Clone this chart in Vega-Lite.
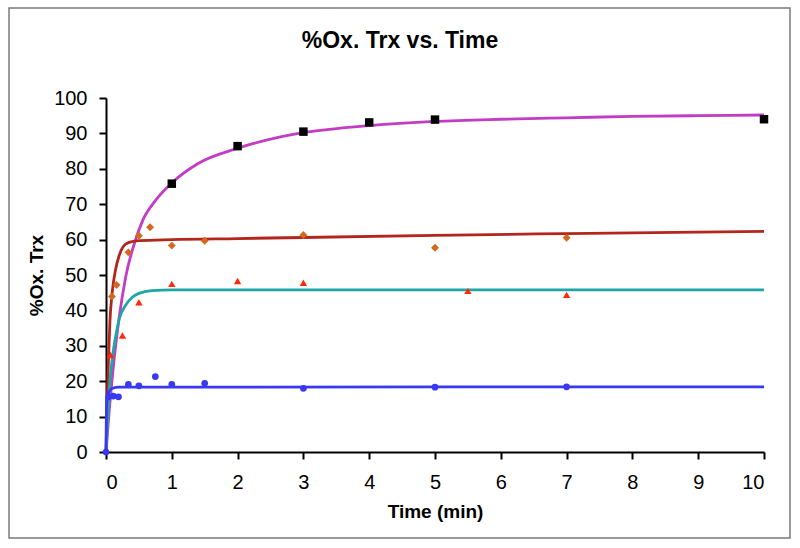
{
  "$schema": "https://vega.github.io/schema/vega-lite/v6.json",
  "autosize": "none",
  "width": 658,
  "height": 354,
  "padding": {"left": 106, "top": 98, "right": 36, "bottom": 96},
  "background": "white",
  "config": {
    "view": {"stroke": null},
    "font": "Liberation Sans",
    "axis": {
      "grid": false,
      "domainColor": "black",
      "domainWidth": 2,
      "tickColor": "black",
      "tickWidth": 2,
      "tickSize": 7,
      "labelFont": "Liberation Sans",
      "labelFontSize": 20,
      "labelColor": "black",
      "titleFont": "Liberation Sans",
      "titleFontSize": 19,
      "titleFontWeight": "bold",
      "titleColor": "black"
    }
  },
  "title": {
    "text": "%Ox. Trx vs. Time",
    "font": "Liberation Sans",
    "fontSize": 23,
    "fontWeight": "bold",
    "color": "black",
    "anchor": "middle",
    "dx": -35,
    "offset": -46
  },
  "datasets": {
    "curves": [
      {"series": "1", "t": 0, "y": 0}, {"series": "1", "t": 0.05, "y": 12}, {"series": "1", "t": 0.1, "y": 22},
      {"series": "1", "t": 0.2, "y": 38}, {"series": "1", "t": 0.3, "y": 49.5}, {"series": "1", "t": 0.45, "y": 60},
      {"series": "1", "t": 0.56, "y": 65.5}, {"series": "1", "t": 0.75, "y": 71}, {"series": "1", "t": 1, "y": 76},
      {"series": "1", "t": 1.4, "y": 81.5}, {"series": "1", "t": 2, "y": 85.8}, {"series": "1", "t": 2.6, "y": 88.8},
      {"series": "1", "t": 3, "y": 90.2}, {"series": "1", "t": 4, "y": 92.2}, {"series": "1", "t": 5, "y": 93.4},
      {"series": "1", "t": 6, "y": 94}, {"series": "1", "t": 7, "y": 94.4}, {"series": "1", "t": 8, "y": 94.8},
      {"series": "1", "t": 9, "y": 95}, {"series": "1", "t": 10, "y": 95.2},
      {"series": "2", "t": 0, "y": 0}, {"series": "2", "t": 0.03, "y": 22}, {"series": "2", "t": 0.06, "y": 37},
      {"series": "2", "t": 0.1, "y": 46}, {"series": "2", "t": 0.14, "y": 51}, {"series": "2", "t": 0.2, "y": 55.5},
      {"series": "2", "t": 0.26, "y": 58}, {"series": "2", "t": 0.35, "y": 59.2}, {"series": "2", "t": 0.5, "y": 59.7},
      {"series": "2", "t": 1, "y": 60}, {"series": "2", "t": 2, "y": 60.3}, {"series": "2", "t": 3, "y": 60.6},
      {"series": "2", "t": 5, "y": 61.2}, {"series": "2", "t": 7, "y": 61.7}, {"series": "2", "t": 10, "y": 62.3},
      {"series": "3", "t": 0, "y": 0}, {"series": "3", "t": 0.03, "y": 11}, {"series": "3", "t": 0.06, "y": 20},
      {"series": "3", "t": 0.1, "y": 27}, {"series": "3", "t": 0.15, "y": 33}, {"series": "3", "t": 0.2, "y": 37.5},
      {"series": "3", "t": 0.3, "y": 41.5}, {"series": "3", "t": 0.4, "y": 43.7}, {"series": "3", "t": 0.5, "y": 44.8},
      {"series": "3", "t": 0.7, "y": 45.6}, {"series": "3", "t": 1, "y": 45.8}, {"series": "3", "t": 10, "y": 45.8},
      {"series": "4", "t": 0, "y": 0}, {"series": "4", "t": 0.01, "y": 14}, {"series": "4", "t": 0.02, "y": 15.8},
      {"series": "4", "t": 0.05, "y": 17.2}, {"series": "4", "t": 0.1, "y": 18}, {"series": "4", "t": 0.2, "y": 18.3},
      {"series": "4", "t": 10, "y": 18.4}
    ],
    "points": [
      {"series": "1", "t": 1, "y": 75.8}, {"series": "1", "t": 2, "y": 86.4}, {"series": "1", "t": 3, "y": 90.5},
      {"series": "1", "t": 4, "y": 93.1}, {"series": "1", "t": 5, "y": 93.9}, {"series": "1", "t": 10, "y": 94.0},
      {"series": "2", "t": 0.09, "y": 43.9}, {"series": "2", "t": 0.16, "y": 47.2}, {"series": "2", "t": 0.34, "y": 56.4},
      {"series": "2", "t": 0.5, "y": 61.1}, {"series": "2", "t": 0.67, "y": 63.5}, {"series": "2", "t": 1, "y": 58.3},
      {"series": "2", "t": 1.5, "y": 59.7}, {"series": "2", "t": 3, "y": 61.3}, {"series": "2", "t": 5, "y": 57.7},
      {"series": "2", "t": 7, "y": 60.5},
      {"series": "3", "t": 0.07, "y": 27.4}, {"series": "3", "t": 0.25, "y": 32.9}, {"series": "3", "t": 0.5, "y": 42.3},
      {"series": "3", "t": 1, "y": 47.5}, {"series": "3", "t": 2, "y": 48.3}, {"series": "3", "t": 3, "y": 47.8},
      {"series": "3", "t": 5.5, "y": 45.5}, {"series": "3", "t": 7, "y": 44.4},
      {"series": "4", "t": 0, "y": 0}, {"series": "4", "t": 0.04, "y": 15.6}, {"series": "4", "t": 0.11, "y": 15.8},
      {"series": "4", "t": 0.19, "y": 15.6}, {"series": "4", "t": 0.34, "y": 19.1}, {"series": "4", "t": 0.5, "y": 18.7},
      {"series": "4", "t": 0.75, "y": 21.3}, {"series": "4", "t": 1, "y": 19.1}, {"series": "4", "t": 1.5, "y": 19.4},
      {"series": "4", "t": 3, "y": 18.0}, {"series": "4", "t": 5, "y": 18.3}, {"series": "4", "t": 7, "y": 18.4}
    ]
  },
  "layer": [
    {
      "data": {"name": "curves"},
      "mark": {"type": "line", "interpolate": "monotone", "strokeWidth": 2.8, "clip": false},
      "encoding": {
        "x": {"field": "t", "type": "quantitative", "scale": {"domain": [0, 10], "nice": false},
              "axis": {"values": [0,1,2,3,4,5,6,7,8,9,10], "format": "d", "title": "Time (min)", "labelPadding": 13, "titlePadding": 10}},
        "y": {"field": "y", "type": "quantitative", "scale": {"domain": [0, 100], "nice": false},
              "axis": {"values": [0,10,20,30,40,50,60,70,80,90,100], "format": "d", "title": "%Ox. Trx", "labelPadding": 12, "titlePadding": 7}},
        "color": {"field": "series", "type": "nominal",
                  "scale": {"domain": ["1","2","3","4"], "range": ["#C23DC4", "#B3261E", "#1EA5A5", "#3838F5"]},
                  "legend": null}
      }
    },
    {
      "data": {"name": "points"},
      "mark": {"type": "point", "filled": true, "opacity": 1, "clip": false},
      "encoding": {
        "x": {"field": "t", "type": "quantitative", "scale": {"domain": [0, 10], "nice": false},
              "axis": {"values": [0,1,2,3,4,5,6,7,8,9,10], "format": "d", "title": "Time (min)", "labelPadding": 13, "titlePadding": 10}},
        "y": {"field": "y", "type": "quantitative", "scale": {"domain": [0, 100], "nice": false},
              "axis": {"values": [0,10,20,30,40,50,60,70,80,90,100], "format": "d", "title": "%Ox. Trx", "labelPadding": 12, "titlePadding": 7}},
        "color": {"field": "series", "type": "nominal",
                  "scale": {"domain": ["1","2","3","4"], "range": ["#000000", "#D2691E", "#FF2A0A", "#3838F5"]},
                  "legend": null},
        "shape": {"field": "series", "type": "nominal",
                  "scale": {"domain": ["1","2","3","4"], "range": ["square", "diamond", "triangle-up", "circle"]},
                  "legend": null},
        "size": {"field": "series", "type": "nominal",
                 "scale": {"domain": ["1","2","3","4"], "range": [72, 45, 55, 50]},
                 "legend": null}
      }
    },
    {
      "data": {"values": [{}]},
      "mark": {"type": "rect", "filled": false, "stroke": "#7a7a7a", "strokeWidth": 1.5, "clip": false},
      "encoding": {
        "x": {"datum": -1.474, "type": "quantitative", "scale": {"domain": [0, 10], "nice": false},
              "axis": {"values": [0,1,2,3,4,5,6,7,8,9,10], "format": "d", "title": "Time (min)", "labelPadding": 13, "titlePadding": 10}},
        "x2": {"datum": 10.395},
        "y": {"datum": -24.29, "type": "quantitative", "scale": {"domain": [0, 100], "nice": false},
              "axis": {"values": [0,10,20,30,40,50,60,70,80,90,100], "format": "d", "title": "%Ox. Trx", "labelPadding": 12, "titlePadding": 7}},
        "y2": {"datum": 125.4}
      }
    }
  ],
  "resolve": {"scale": {"color": "independent"}}
}
